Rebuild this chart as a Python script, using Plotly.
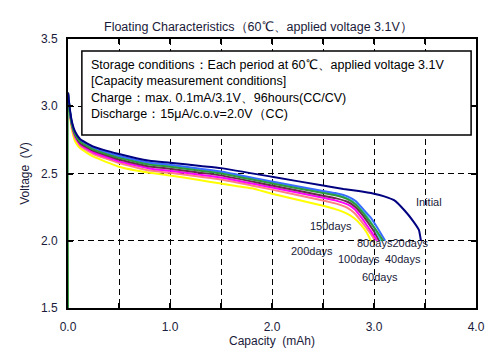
import plotly.graph_objects as go

# ---- data ----
cap_initial = [0, 0.02, 0.04, 0.07, 0.12, 0.25, 0.5, 0.8, 1.0, 1.3, 1.5, 2.0, 2.5, 2.7, 2.85, 3.0, 3.1, 3.2, 3.3, 3.38, 3.44, 3.46]
v_initial = [3.10, 2.97, 2.88, 2.81, 2.755, 2.70, 2.645, 2.595, 2.58, 2.556, 2.54, 2.476, 2.41, 2.385, 2.37, 2.35, 2.33, 2.30, 2.225, 2.15, 2.08, 2.00]

cap_20 = [0, 0.02, 0.04, 0.07, 0.12, 0.25, 0.5, 0.8, 1.0, 1.3, 1.5, 2.0, 2.5, 2.62, 2.74, 2.82, 2.9, 2.97, 3.03, 3.11]
v_20 = [3.10, 2.96, 2.87, 2.80, 2.745, 2.69, 2.63, 2.58, 2.565, 2.535, 2.515, 2.44, 2.37, 2.355, 2.33, 2.295, 2.23, 2.17, 2.10, 2.00]

cap_40 = [0, 0, 0.02, 0.04, 0.07, 0.12, 0.25, 0.5, 0.8, 1.0, 1.3, 1.5, 2.0, 2.5, 2.62, 2.74, 2.82, 2.9, 2.96, 3.02, 3.09]
v_40 = [1.50, 3.10, 2.95, 2.86, 2.79, 2.735, 2.678, 2.616, 2.566, 2.55, 2.52, 2.50, 2.426, 2.355, 2.338, 2.31, 2.27, 2.20, 2.14, 2.08, 2.00]

cap_60 = [0, 0.02, 0.04, 0.07, 0.12, 0.25, 0.5, 0.8, 1.0, 1.3, 1.5, 2.0, 2.5, 2.62, 2.74, 2.82, 2.9, 2.95, 3.0, 3.07]
v_60 = [3.10, 2.955, 2.865, 2.795, 2.74, 2.683, 2.622, 2.572, 2.556, 2.527, 2.507, 2.432, 2.36, 2.343, 2.315, 2.275, 2.21, 2.16, 2.10, 2.00]

cap_80 = [0, 0.02, 0.04, 0.07, 0.12, 0.25, 0.5, 0.8, 1.0, 1.3, 1.5, 2.0, 2.5, 2.62, 2.74, 2.82, 2.9, 2.95, 3.0, 3.05]
v_80 = [3.10, 2.95, 2.855, 2.785, 2.725, 2.668, 2.604, 2.552, 2.536, 2.506, 2.486, 2.41, 2.335, 2.317, 2.29, 2.25, 2.18, 2.125, 2.07, 2.00]

cap_100 = [0, 0.02, 0.04, 0.07, 0.12, 0.25, 0.5, 0.8, 1.0, 1.3, 1.5, 2.0, 2.5, 2.62, 2.74, 2.81, 2.88, 2.93, 2.98, 3.03]
v_100 = [3.10, 2.945, 2.85, 2.775, 2.715, 2.656, 2.59, 2.538, 2.52, 2.49, 2.47, 2.396, 2.32, 2.30, 2.27, 2.235, 2.17, 2.115, 2.06, 2.00]

cap_150 = [0, 0.02, 0.04, 0.07, 0.12, 0.25, 0.5, 0.8, 1.0, 1.3, 1.5, 2.0, 2.5, 2.62, 2.74, 2.81, 2.88, 2.93, 2.97, 3.01]
v_150 = [3.10, 2.94, 2.84, 2.765, 2.705, 2.645, 2.578, 2.522, 2.505, 2.475, 2.455, 2.38, 2.30, 2.278, 2.245, 2.205, 2.14, 2.09, 2.05, 2.00]

cap_200 = [0, 0.02, 0.04, 0.07, 0.12, 0.25, 0.5, 0.8, 1.0, 1.3, 1.5, 1.8, 2.0, 2.5, 2.62, 2.74, 2.81, 2.87, 2.93, 2.97]
v_200 = [3.10, 2.93, 2.82, 2.74, 2.687, 2.625, 2.55, 2.505, 2.485, 2.45, 2.425, 2.39, 2.35, 2.26, 2.235, 2.20, 2.165, 2.12, 2.06, 2.00]

series = [
    ("200days", cap_200, v_200, "#FFFF00"),
    ("150days", cap_150, v_150, "#FF8080"),
    ("100days", cap_100, v_100, "#FF00FF"),
    ("80days", cap_80, v_80, "#6B2B4B"),
    ("60days", cap_60, v_60, "#33CCCC"),
    ("20days", cap_20, v_20, "#3A6BFF"),
    ("40days", cap_40, v_40, "#2E9A3A"),
    ("Initial", cap_initial, v_initial, "#000080"),
]

x_tickvals = [0, 0.5, 1.0, 1.5, 2.0, 2.5, 3.0, 3.5, 4.0]
x_ticktext = ["0.0", "", "1.0", "", "2.0", "", "3.0", "", "4.0"]
y_tickvals = [1.5, 2.0, 2.5, 3.0, 3.5]
y_ticktext = ["1.5", "2.0", "2.5", "3.0", "3.5"]

# curve labels: (text, capacity, voltage)
curve_labels = [
    ("Initial", 3.54, 2.29),
    ("150days", 2.58, 2.11),
    ("80days20days", 3.18, 1.983),
    ("200days", 2.39, 1.924),
    ("100days", 2.85, 1.864),
    ("40days", 3.28, 1.864),
    ("60days", 3.055, 1.73),
]

box_lines = [
    "Storage conditions：Each period at 60℃、applied voltage 3.1V",
    "[Capacity measurement conditions]",
    "Charge：max. 0.1mA/3.1V、96hours(CC/CV)",
    "Discharge：15μA/c.o.v=2.0V（CC)",
]

TXT = "#1a1a3a"
FONT = "Liberation Sans, Arial, sans-serif"

fig = go.Figure()
for name, cx, vy, col in series:
    fig.add_trace(go.Scatter(x=cx, y=vy, mode="lines", name=name,
                             line=dict(color=col, width=2, shape="spline", smoothing=0.4),
                             showlegend=False, hoverinfo="skip"))

for t, cx, vy in curve_labels:
    fig.add_annotation(x=cx, y=vy, text=t, showarrow=False,
                       font=dict(size=11, color=TXT, family=FONT))

# text box
fig.add_shape(type="rect", xref="paper", yref="paper",
              x0=0.034, x1=0.988, y0=0.643, y1=0.955,
              line=dict(color="black", width=1.5), fillcolor="white", layer="above")
fig.add_annotation(xref="paper", yref="paper", x=0.052, y=0.935,
                   xanchor="left", yanchor="top", align="left", showarrow=False,
                   text="<br>".join(box_lines),
                   font=dict(size=12.5, color="black", family=FONT))

# title
fig.add_annotation(xref="paper", yref="paper", x=0.466, y=1.078,
                   text="Floating Characteristics（60℃、applied voltage 3.1V）",
                   showarrow=False, font=dict(size=12.5, color=TXT, family=FONT))

# page body has an 8px margin, so the figure is 8px smaller and margins shifted
fig.update_layout(
    width=492, height=352,
    margin=dict(l=60, r=24, t=31, b=52),
    paper_bgcolor="white", plot_bgcolor="white",
    font=dict(family=FONT, size=12, color=TXT),
)
fig.update_xaxes(range=[0, 4], tickvals=x_tickvals, ticktext=x_ticktext,
                 ticks="inside", ticklen=5, tickcolor="black", tickwidth=1.5,
                 showline=True, linecolor="black", linewidth=2, mirror="allticks",
                 showgrid=True, gridcolor="black", gridwidth=1, griddash="6px,4px",
                 zeroline=False, ticklabelstandoff=7,
                 title=dict(text="Capacity  (mAh)", font=dict(size=12, color=TXT), standoff=2))
fig.update_yaxes(range=[1.5, 3.5], tickvals=y_tickvals, ticktext=y_ticktext,
                 ticks="inside", ticklen=5, tickcolor="black", tickwidth=1.5,
                 showline=True, linecolor="black", linewidth=2, mirror="allticks",
                 showgrid=True, gridcolor="black", gridwidth=1, griddash="6px,4px",
                 zeroline=False, ticklabelstandoff=6,
                 title=dict(text="Voltage  (V)", font=dict(size=12, color=TXT), standoff=9))

fig.write_html("out.html")
